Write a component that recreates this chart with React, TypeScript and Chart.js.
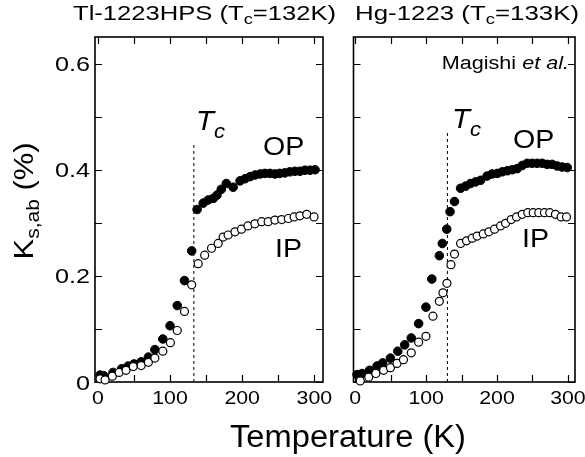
import React, { useEffect, useRef } from "react";
import { Chart, registerables } from "chart.js";
Chart.register(...registerables);

const W = 585;
const H = 457;
const FONT = '"Liberation Sans", Arial, Helvetica, sans-serif';

// ---- Data: Tl-1223HPS (left panel) ----
const TL_OP_T = [3, 8, 21, 33, 42, 50, 60, 70, 79, 90, 100, 110, 120, 130, 137.5, 146, 153, 160, 165, 171, 178, 187.5, 197, 204, 211, 218, 225, 231.5, 238.5, 245.5, 252, 259, 266, 273, 280, 287, 294, 301];
const TL_OP_K = [0.013, 0.012, 0.018, 0.025, 0.030, 0.034, 0.038, 0.047, 0.061, 0.081, 0.106, 0.144, 0.191, 0.247, 0.325, 0.337, 0.343, 0.346, 0.352, 0.363, 0.374, 0.367, 0.379, 0.383, 0.387, 0.390, 0.392, 0.393, 0.393, 0.392, 0.393, 0.394, 0.396, 0.397, 0.397, 0.399, 0.399, 0.400];
const TL_IP_T = [3, 10, 20, 29.5, 39, 49, 60, 70, 79, 90, 100.5, 110, 120, 130, 139, 148, 157.5, 166.7, 173.6, 180.5, 190, 199, 208, 217.6, 227, 236, 245.4, 254.7, 264, 272, 280, 289.4, 299.6];
const TL_IP_K = [0.006, 0.004, 0.011, 0.018, 0.022, 0.029, 0.031, 0.037, 0.045, 0.058, 0.074, 0.097, 0.133, 0.183, 0.223, 0.239, 0.252, 0.261, 0.273, 0.277, 0.283, 0.288, 0.294, 0.298, 0.302, 0.302, 0.305, 0.306, 0.308, 0.311, 0.313, 0.316, 0.311];

// ---- Data: Hg-1223 (right panel) ----
const HG_OP_T = [2.5, 9.6, 20, 30.7, 38.7, 49.6, 60, 69.7, 79, 89.4, 99.7, 108, 118.6, 122.8, 129, 133.7, 140, 148.6, 155.6, 162.7, 169.7, 176.8, 186, 193, 200.4, 207.5, 214.5, 221.5, 228.5, 235.5, 242.5, 249.6, 256.6, 263.7, 270.7, 277.7, 284.8, 291.8, 299];
const HG_OP_K = [0.014, 0.016, 0.022, 0.030, 0.036, 0.045, 0.058, 0.070, 0.083, 0.110, 0.141, 0.194, 0.238, 0.261, 0.288, 0.321, 0.340, 0.365, 0.369, 0.374, 0.377, 0.380, 0.388, 0.392, 0.393, 0.396, 0.398, 0.400, 0.402, 0.408, 0.412, 0.412, 0.412, 0.412, 0.410, 0.410, 0.407, 0.405, 0.404];
const HG_IP_T = [7, 19, 29, 40, 49.6, 58.9, 68, 79, 89.4, 99.7, 109.6, 118.6, 123.7, 129.3, 135, 140, 148.6, 157, 165, 172, 180.6, 188.5, 196.5, 205, 212, 220, 227.5, 235.5, 243.4, 251, 258.9, 266.9, 274.4, 282.4, 290.4, 298];
const HG_IP_K = [0.002, 0.009, 0.016, 0.022, 0.027, 0.035, 0.042, 0.055, 0.075, 0.086, 0.124, 0.152, 0.168, 0.186, 0.221, 0.241, 0.261, 0.266, 0.271, 0.275, 0.279, 0.283, 0.288, 0.294, 0.299, 0.306, 0.311, 0.316, 0.319, 0.319, 0.319, 0.319, 0.319, 0.316, 0.311, 0.311];

// ---- Axes ----
const X_TICKS = [0, 50, 100, 150, 200, 250, 300];
const X_LABELS = [0, 100, 200, 300];
const Y_TICKS = [0, 0.1, 0.2, 0.3, 0.4, 0.5, 0.6];
const Y_LABELS = [0, 0.2, 0.4, 0.6];
const Y_MIN = 0;
const Y_MAX = 0.65;

// Tc marker lines (temperature, top value)
const TC_LEFT = [133, 0.447];
const TC_RIGHT = [130, 0.475];

type Seg = { t: string; sub?: boolean; it?: boolean };

function fnt(size: number, italic?: boolean) {
  return `${italic ? "italic " : ""}${size}px ${FONT}`;
}

function drawRich(
  ctx: CanvasRenderingContext2D,
  segs: Seg[],
  x: number,
  y: number,
  size: number,
  o: { align?: string; sx?: number; width?: number; subSize?: number; subDy?: number } = {}
) {
  const subSize = o.subSize ?? Math.round(size * 0.7);
  const subDy = o.subDy ?? size * 0.22;
  let nat = 0;
  const ws = segs.map((s) => {
    ctx.font = fnt(s.sub ? subSize : size, s.it);
    const w = ctx.measureText(s.t).width;
    nat += w;
    return w;
  });
  const sx = o.width ? o.width / nat : o.sx ?? 1;
  const total = nat * sx;
  let x0 = x;
  if (o.align === "center") x0 = x - total / 2;
  else if (o.align === "right") x0 = x - total;
  ctx.save();
  ctx.translate(x0, y);
  ctx.scale(sx, 1);
  ctx.fillStyle = "#000";
  ctx.textBaseline = "alphabetic";
  ctx.textAlign = "left";
  let cx = 0;
  segs.forEach((s, i) => {
    ctx.font = fnt(s.sub ? subSize : size, s.it);
    ctx.fillText(s.t, cx, s.sub ? subDy : 0);
    cx += ws[i];
  });
  ctx.restore();
}

type PanelCfg = {
  left: number;
  right: number;
  xMin: number;
  xMax: number;
  op: [number[], number[]];
  ip: [number[], number[]];
  tc: number[];
  yLabels: boolean;
  extra: (ctx: CanvasRenderingContext2D) => void;
};

const TOP = 37;
const BOTTOM = 382;
const TICK_LEN = 7;

function panelPlugin(p: PanelCfg) {
  return {
    id: "panelDecor",
    beforeDatasetsDraw(chart: any) {
      const { ctx, chartArea: a, scales } = chart;
      const xs = scales.x;
      const ys = scales.y;
      ctx.save();
      ctx.strokeStyle = "#000";
      ctx.lineWidth = 1.2;
      ctx.beginPath();
      X_TICKS.forEach((v) => {
        const px = Math.round(xs.getPixelForValue(v)) + 0.5;
        ctx.moveTo(px, a.bottom);
        ctx.lineTo(px, a.bottom - TICK_LEN);
        ctx.moveTo(px, a.top);
        ctx.lineTo(px, a.top + TICK_LEN);
      });
      Y_TICKS.forEach((v) => {
        const py = Math.round(ys.getPixelForValue(v)) + 0.5;
        ctx.moveTo(a.left, py);
        ctx.lineTo(a.left + TICK_LEN, py);
        ctx.moveTo(a.right, py);
        ctx.lineTo(a.right - TICK_LEN, py);
      });
      ctx.stroke();
      ctx.lineWidth = 1.6;
      ctx.strokeRect(a.left, a.top, a.right - a.left, a.bottom - a.top);
      ctx.restore();
    },
    afterDatasetsDraw(chart: any) {
      const { ctx, scales } = chart;
      const xs = scales.x;
      const ys = scales.y;
      X_LABELS.forEach((v) => {
        drawRich(ctx, [{ t: String(v) }], xs.getPixelForValue(v), 404, 19, { align: "center", sx: 1.12 });
      });
      if (p.yLabels) {
        Y_LABELS.forEach((v) => {
          drawRich(ctx, [{ t: String(v) }], 90, ys.getPixelForValue(v) + 21 * 0.358, 21, { align: "right", sx: 1.2 });
        });
      }
      p.extra(ctx);
    },
  };
}

function makeConfig(p: PanelCfg): any {
  const toPts = (t: number[], k: number[]) => t.map((x, i) => ({ x, y: k[i] }));
  return {
    type: "scatter",
    data: {
      datasets: [
        {
          label: "IP",
          data: toPts(p.ip[0], p.ip[1]),
          pointRadius: 4.0,
          pointBackgroundColor: "#fff",
          pointBorderColor: "#000",
          pointBorderWidth: 1.2,
          showLine: false,
          clip: false,
          order: 0,
        },
        {
          label: "OP",
          data: toPts(p.op[0], p.op[1]),
          pointRadius: 4.3,
          pointBackgroundColor: "#000",
          pointBorderColor: "#000",
          pointBorderWidth: 1,
          showLine: false,
          clip: false,
          order: 1,
        },
        {
          type: "line",
          label: "Tc",
          data: [
            { x: p.tc[0], y: 0 },
            { x: p.tc[0], y: p.tc[1] },
          ],
          borderColor: "#000",
          borderWidth: 1,
          borderDash: [3, 3],
          pointRadius: 0,
          order: 2,
        },
      ],
    },
    options: {
      animation: false,
      responsive: false,
      events: [],
      layout: { padding: { left: p.left, right: W - p.right, top: TOP, bottom: H - BOTTOM } },
      plugins: { legend: { display: false }, tooltip: { enabled: false } },
      scales: {
        x: { type: "linear", min: p.xMin, max: p.xMax, display: false },
        y: { type: "linear", min: Y_MIN, max: Y_MAX, display: false },
      },
    },
    plugins: [panelPlugin(p)],
  };
}

const LEFT: PanelCfg = {
  left: 95,
  right: 323,
  xMin: -4,
  xMax: 312,
  op: [TL_OP_T, TL_OP_K],
  ip: [TL_IP_T, TL_IP_K],
  tc: TC_LEFT,
  yLabels: true,
  extra: (ctx) => {
    drawRich(ctx, [{ t: "Tl-1223HPS (T" }, { t: "c", sub: true }, { t: "=132K)" }], 73, 20, 21, { width: 263, subSize: 15, subDy: 4 });
    drawRich(ctx, [{ t: "Hg-1223 (T" }, { t: "c", sub: true }, { t: "=133K)" }], 355, 20, 21, { width: 224, subSize: 15, subDy: 4 });
    drawRich(ctx, [{ t: "Temperature (K)" }], 230, 447, 31, { width: 236 });
    ctx.save();
    ctx.translate(33, 201);
    ctx.rotate(-Math.PI / 2);
    drawRich(ctx, [{ t: "K" }, { t: "s,ab", sub: true }, { t: " (%)" }], 0, 0, 28, { align: "center", width: 117, subSize: 19, subDy: 6 });
    ctx.restore();
    drawRich(ctx, [{ t: "T", it: true }, { t: "c", it: true, sub: true }], 196, 130, 28, { sx: 1.05, subSize: 21, subDy: 8 });
    drawRich(ctx, [{ t: "OP" }], 263, 155, 26, { sx: 1.1 });
    drawRich(ctx, [{ t: "IP" }], 275, 257, 26, { sx: 1.1 });
  },
};

const RIGHT: PanelCfg = {
  left: 353.5,
  right: 575,
  xMin: -2.5,
  xMax: 310,
  op: [HG_OP_T, HG_OP_K],
  ip: [HG_IP_T, HG_IP_K],
  tc: TC_RIGHT,
  yLabels: false,
  extra: (ctx) => {
    drawRich(ctx, [{ t: "T", it: true }, { t: "c", it: true, sub: true }], 452, 128, 28, { sx: 1.05, subSize: 21, subDy: 8 });
    drawRich(ctx, [{ t: "OP" }], 513, 148, 26, { sx: 1.1 });
    drawRich(ctx, [{ t: "IP" }], 522, 247, 26, { sx: 1.1 });
    drawRich(ctx, [{ t: "Magishi " }, { t: "et al.", it: true }], 569, 69, 18, { align: "right", sx: 1.2 });
  },
};

export default function App() {
  const leftRef = useRef<HTMLCanvasElement>(null);
  const rightRef = useRef<HTMLCanvasElement>(null);
  useEffect(() => {
    const c1 = new Chart(leftRef.current as HTMLCanvasElement, makeConfig(LEFT));
    const c2 = new Chart(rightRef.current as HTMLCanvasElement, makeConfig(RIGHT));
    return () => {
      c1.destroy();
      c2.destroy();
    };
  }, []);
  return (
    <div style={{ position: "fixed", left: 0, top: 0, width: W, height: H, background: "#fff" }}>
      <canvas ref={leftRef} width={W} height={H} style={{ position: "absolute", left: 0, top: 0, width: W, height: H }} />
      <canvas ref={rightRef} width={W} height={H} style={{ position: "absolute", left: 0, top: 0, width: W, height: H }} />
    </div>
  );
}
